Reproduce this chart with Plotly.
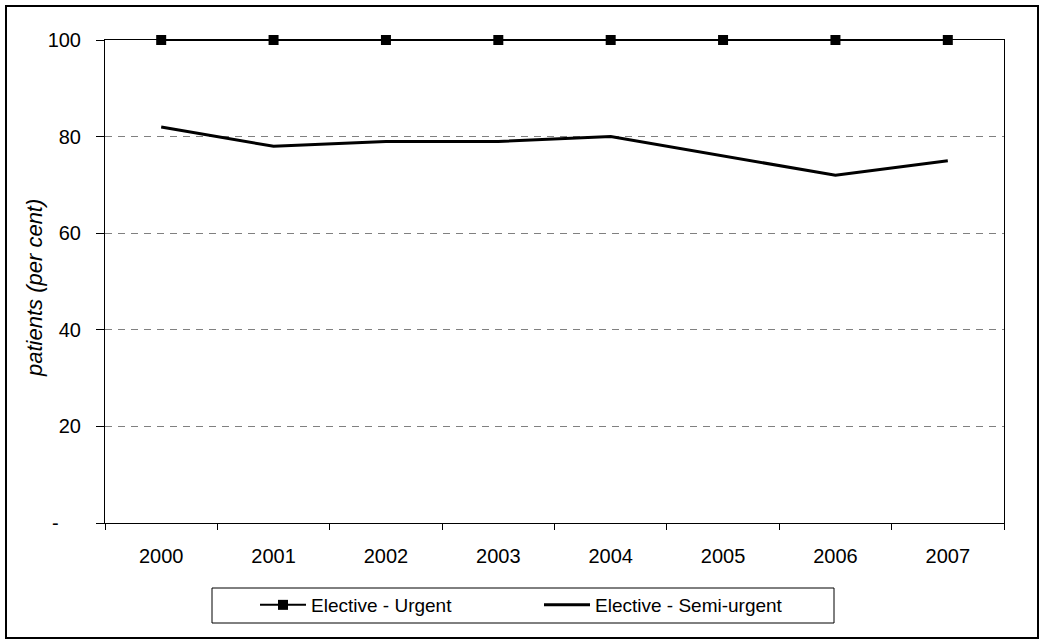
import plotly.graph_objects as go

# Share of elective patients seen within the clinically recommended time
years = ["2000", "2001", "2002", "2003", "2004", "2005", "2006", "2007"]
urgent = [100, 100, 100, 100, 100, 100, 100, 100]
semi_urgent = [82, 78, 79, 79, 80, 76, 72, 75]

y_ticks = [0, 20, 40, 60, 80, 100]
y_tick_text = ["-\u00a0\u00a0\u00a0\u00a0", "20", "40", "60", "80", "100"]

W, H = 1040, 640
ML, MR, MT, MB = 105, 36, 40, 117
PW, PH = W - ML - MR, H - MT - MB


def px_x(px):
    return (px - ML) / PW


def px_y(py):
    return (H - MB - py) / PH


FONT = "Liberation Sans, Arial, sans-serif"

fig = go.Figure()
fig.add_trace(go.Scatter(
    x=years, y=urgent, name="Elective - Urgent", mode="lines+markers",
    line=dict(color="black", width=2),
    marker=dict(symbol="square", size=10, color="black"),
    cliponaxis=False,
))
fig.add_trace(go.Scatter(
    x=years, y=semi_urgent, name="Elective - Semi-urgent", mode="lines",
    line=dict(color="black", width=3),
    cliponaxis=False,
))

fig.update_layout(
    width=W, height=H,
    margin=dict(l=ML, r=MR, t=MT, b=MB, pad=0),
    paper_bgcolor="white", plot_bgcolor="white",
    font=dict(family=FONT, size=20, color="black"),
    showlegend=True,
    legend=dict(
        orientation="h", x=px_x(255), y=px_y(605), xanchor="left", yanchor="middle",
        borderwidth=0, bgcolor="rgba(0,0,0,0)",
        font=dict(size=19), entrywidth=223, itemwidth=46,
        traceorder="normal",
    ),
    xaxis=dict(
        type="category", showgrid=False, showline=True, linecolor="black", linewidth=1,
        mirror=True, ticks="outside", ticklen=6, tickcolor="black",
        tickson="boundaries", ticklabelstandoff=15, range=[-0.5, 7.5],
    ),
    yaxis=dict(
        range=[0, 100], tickvals=y_ticks, ticktext=y_tick_text,
        showline=True, linecolor="black", linewidth=1, mirror=True,
        ticks="outside", ticklen=8, tickcolor="black", ticklabelstandoff=11,
        showgrid=True, gridcolor="#808080", gridwidth=1, griddash="7px,6px",
        zeroline=False,
    ),
    annotations=[dict(
        text="<i>patients (per cent)</i>", textangle=-90,
        xref="paper", yref="paper", x=px_x(34), y=px_y(288),
        xanchor="center", yanchor="middle", showarrow=False,
        font=dict(size=22),
    )],
    shapes=[
        # outer frame around the whole chart
        dict(type="rect", xref="paper", yref="paper",
             x0=px_x(6), x1=px_x(1038), y0=px_y(638), y1=px_y(6),
             line=dict(color="black", width=2), layer="below"),
        # legend frame
        dict(type="rect", xref="paper", yref="paper",
             x0=px_x(212), x1=px_x(834), y0=px_y(623), y1=px_y(588),
             line=dict(color="black", width=1), fillcolor="white", layer="below"),
    ],
)

fig.write_html("out.html")
